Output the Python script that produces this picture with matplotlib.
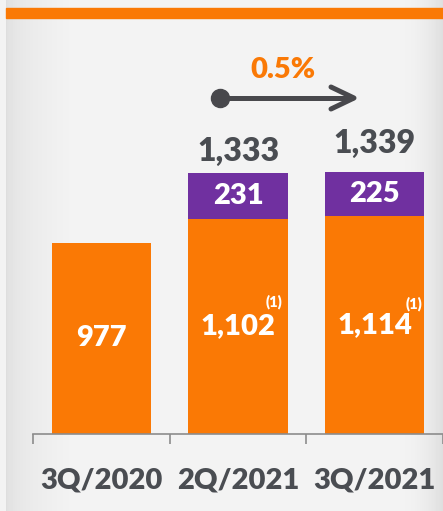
import matplotlib.pyplot as plt
import numpy as np
from matplotlib.patches import Rectangle

periods = ["3Q/2020", "2Q/2021", "3Q/2021"]
base = [977, 1102, 1114]
extra = [0, 231, 225]
totals = [977, 1333, 1339]
growth = "0.5%"

orange = "#fa7905"
purple = "#7030a0"
grey = "#4a4d52"
wt = 'heavy'

plt.rcParams['font.family'] = ['Lato', 'DejaVu Sans']
fig = plt.figure(figsize=(4.43, 5.11), dpi=100)

# background with soft shading at the edges
bg = fig.add_axes([0, 0, 1, 1])
bg.set_xlim(0, 443)
bg.set_ylim(511, 0)
bg.axis('off')
cols = np.arange(443)
shade = np.full(443, 0.95)
shade[6:70] = 0.87 + 0.08 * np.sqrt((cols[6:70] - 6) / 64)
shade[400:] = 0.95 - 0.08 * ((cols[400:] - 400) / 43) ** 2
bg.imshow(np.tile(shade, (511, 1)), cmap='gray', vmin=0, vmax=1,
          extent=(0, 443, 511, 0), aspect='auto')
bg.add_patch(Rectangle((6, 8), 437, 10, color=orange))

# growth arrow
dark = "#48484c"
bg.plot([220, 352], [98, 98], color=dark, lw=3.6, solid_capstyle='round')
bg.plot([331, 354, 331], [87, 98, 109], color=dark, lw=3.6,
        solid_capstyle='round', solid_joinstyle='round')
bg.plot(220, 98, 'o', ms=13, color=dark)
bg.text(283, 70, growth, color=orange, fontsize=21, fontweight=wt,
        ha='center', va='center')

# bars
ax = fig.add_axes([33 / 443, 77 / 511, 410 / 443, 416 / 511])
ax.patch.set_alpha(0)
x = np.arange(len(periods))
ax.bar(x, base, 0.725, color=orange, zorder=2)
ax.bar(x[1:], extra[1:], 0.725, bottom=base[1:], color=purple, zorder=2)
ax.set_xlim(-0.5, -0.5 + 410 / 138)
ax.set_ylim(0, 416 / 0.1955)

for i in range(len(periods)):
    ax.text(x[i], base[i] / 2, f"{base[i]:,}", color='white', fontsize=21,
            fontweight=wt, ha='center', va='center', zorder=3)
    if extra[i]:
        ax.text(x[i], base[i] + extra[i] / 2, f"{extra[i]:,}", color='white',
                fontsize=21, fontweight=wt, ha='center', va='center', zorder=3)

sup_off = [None, (36, 25), (39, 21)]
tot_off = [None, 22, 29]
for i in range(1, len(periods)):
    ax.annotate("(1)", (x[i], base[i] / 2), xytext=sup_off[i],
                textcoords='offset pixels', color='white', fontsize=10.5,
                fontweight=wt, ha='center', va='center', zorder=3)
    ax.annotate(f"{totals[i]:,}", (x[i], totals[i]), xytext=(0, tot_off[i]),
                textcoords='offset pixels', color=grey, fontsize=23,
                fontweight=wt, ha='center', va='center')

for s in ['top', 'right', 'left']:
    ax.spines[s].set_visible(False)
ax.spines['bottom'].set_color('#8c8c8c')
ax.spines['bottom'].set_linewidth(1.2)
ax.set_yticks([])
ax.set_xticks(x)
ax.set_xticklabels(periods, fontsize=21, fontweight=wt, color=grey)
ax.tick_params(axis='x', length=0, pad=24)
ax.set_xticks([-0.5, 0.5, 1.5, 2.5], minor=True)
ax.tick_params(axis='x', which='minor', length=7.5, width=1.2, color='#8c8c8c')

fig.savefig('out.png', dpi=100)
